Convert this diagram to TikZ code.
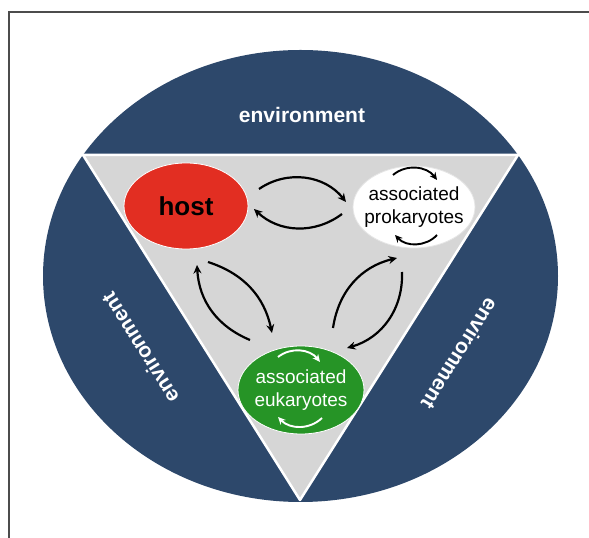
\documentclass[tikz,border=0pt]{standalone}
\usepackage{fontspec}
\setmainfont{Liberation Sans}
\usetikzlibrary{shapes.geometric, arrows.meta}
\usepackage{xcolor}
\definecolor{azulamb}{RGB}{45,72,107}
\definecolor{cinzatri}{RGB}{214,214,214}
\definecolor{vermelho}{RGB}{226,46,34}
\definecolor{verde}{RGB}{38,148,38}

\begin{document}
\begin{tikzpicture}[x=1pt,y=1pt,
    seta/.style={-{Stealth[length=8.5pt,width=8pt]}, line width=2.2pt},
    laco/.style={-{Stealth[length=7.5pt,width=7pt]}, line width=1.9pt},
    bola/.style={ellipse, inner sep=0pt, draw=white, line width=0.8pt},
    amb/.style={text=white, font=\bfseries\fontsize{21}{25}\selectfont}]
    \useasboundingbox (0,0) rectangle (589,538);
    % Moldura
    \draw[line width=1.5pt, black!70] (9,0) -- (9,526) -- (589,526);
    % Ambiente (elipse azul)
    \fill[azulamb] (300.5,262) ellipse [x radius=257.5, y radius=226];
    % Triângulo central
    \fill[cinzatri] (83,383) -- (518,383) -- (300,38) -- cycle;
    \draw[white, line width=2.5pt, line join=round] (83,383) -- (518,383) -- (300,38) -- cycle;
    % Rótulos do ambiente
    \node[amb] (ambtopo) at (302,423) {environment};
    \node[amb, rotate=122] (ambesq) at (140,190) {environment};
    \node[amb, rotate=-122] (ambdir) at (460,184) {environment};
    % Hospedeiro e associados
    \node[bola, fill=vermelho, minimum width=124, minimum height=86,
        label={[font=\bfseries\fontsize{26}{30}\selectfont]center:host}] (host) at (186,332) {};
    \node[bola, fill=white, draw=black!10, minimum width=122, minimum height=82,
        label={[align=center, font=\fontsize{19}{23}\selectfont]center:associated\\prokaryotes}] (prok) at (414,331) {};
    \node[bola, fill=verde, minimum width=126, minimum height=88,
        label={[align=center, text=white, font=\fontsize{19}{23}\selectfont]center:associated\\eukaryotes}] (euk) at (301,148) {};
    % Setas host <-> procariotos
    \draw[seta] ([shift={(73,17)}]host.center) to[bend left=43] ([shift={(-68,5)}]prok.center);
    \draw[seta] ([shift={(-72,-7)}]prok.center) to[bend left=40] ([shift={(68,-3)}]host.center);
    % Setas host <-> eucariotos
    \draw[seta] ([shift={(-51,50)}]euk.center) to[bend left=32] ([shift={(11,-59)}]host.center);
    \draw[seta] ([shift={(22,-56)}]host.center) to[bend left=30] ([shift={(-29,57)}]euk.center);
    % Setas procariotos <-> eucariotos
    \draw[seta] ([shift={(32,62)}]euk.center) to[bend left=34] ([shift={(-17,-51)}]prok.center);
    \draw[seta] ([shift={(-12,-65)}]prok.center) to[bend left=38] ([shift={(46,42)}]euk.center);
    % Laços internos
    \draw[laco] ([shift={(-21,32)}]prok.center) to[bend left=47] ([shift={(23,27)}]prok.center);
    \draw[laco] ([shift={(23,-28)}]prok.center) to[bend left=47] ([shift={(-19,-28)}]prok.center);
    \draw[laco, white] ([shift={(-23,33)}]euk.center) to[bend left=45] ([shift={(19,28)}]euk.center);
    \draw[laco, white] ([shift={(21,-28)}]euk.center) to[bend left=45] ([shift={(-23,-27)}]euk.center);
\end{tikzpicture}
\end{document}
